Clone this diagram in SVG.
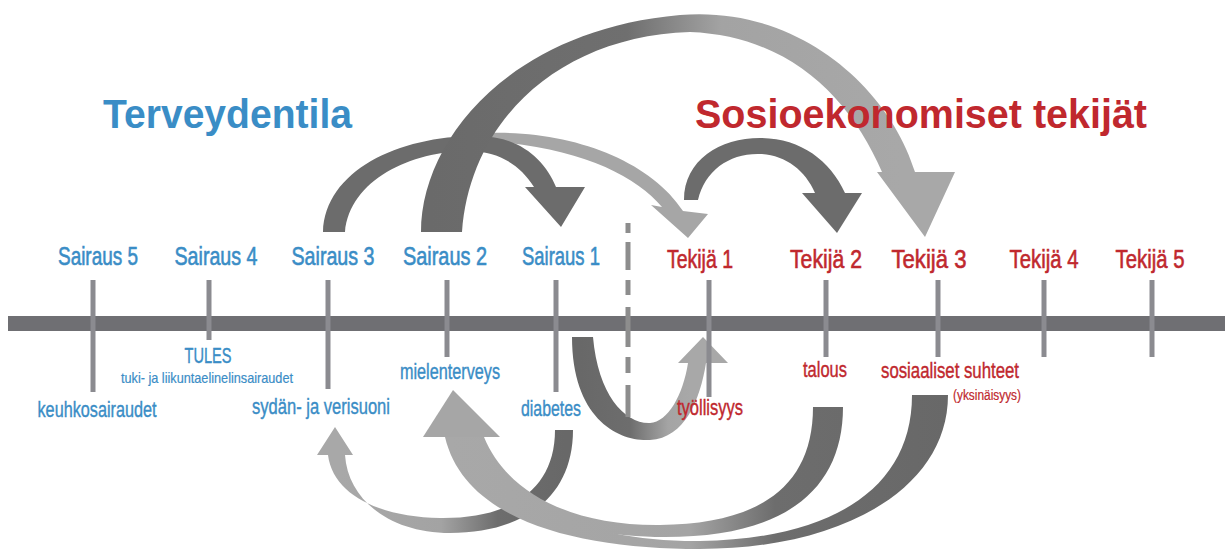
<svg xmlns="http://www.w3.org/2000/svg" width="1225" height="549" viewBox="0 0 1225 549">
<style>
.title{font-family:"Liberation Sans",Arial,sans-serif;font-weight:bold;font-size:41px}
.lbl{font-family:"Liberation Sans Narrow","Liberation Sans",Arial,sans-serif;font-size:26px;text-anchor:middle;stroke-width:0.6px}
.sub{font-family:"Liberation Sans Narrow","Liberation Sans",Arial,sans-serif;font-size:22px;text-anchor:middle;stroke-width:0.4px}
.blue{fill:#3a8dc6}
.red{fill:#c0282e}
.lbl.blue,.sub.blue{stroke:#3a8dc6}
.lbl.red,.sub.red{stroke:#c0282e}
.tick{stroke:#8b8b90;stroke-width:5;fill:none}
.dark{fill:#6c6c6c}
.light{fill:#a6a6a6}
</style>
<defs>
<linearGradient id="gB" gradientUnits="userSpaceOnUse" x1="430" y1="0" x2="900" y2="0">
<stop offset="0" stop-color="#6a6a6a"/><stop offset="0.42" stop-color="#6f6f6f"/><stop offset="0.62" stop-color="#a3a3a3"/><stop offset="1" stop-color="#a8a8a8"/>
</linearGradient>
<linearGradient id="gE" gradientUnits="userSpaceOnUse" x1="580" y1="0" x2="690" y2="0">
<stop offset="0" stop-color="#686868"/><stop offset="0.45" stop-color="#6d6d6d"/><stop offset="0.8" stop-color="#a4a4a4"/><stop offset="1" stop-color="#a8a8a8"/>
</linearGradient>
<linearGradient id="gF" gradientUnits="userSpaceOnUse" x1="565" y1="0" x2="340" y2="0">
<stop offset="0" stop-color="#686868"/><stop offset="0.3" stop-color="#6d6d6d"/><stop offset="0.55" stop-color="#a3a3a3"/><stop offset="1" stop-color="#a8a8a8"/>
</linearGradient>
<linearGradient id="gGH" gradientUnits="userSpaceOnUse" x1="950" y1="0" x2="450" y2="0">
<stop offset="0" stop-color="#686868"/><stop offset="0.35" stop-color="#6d6d6d"/><stop offset="0.52" stop-color="#a4a4a4"/><stop offset="1" stop-color="#a8a8a8"/>
</linearGradient>
</defs>
<rect width="1225" height="549" fill="#ffffff"/>

<g id="connectors">
  <!-- Tekijä 1 -> Tekijä 2 -->
  <path class="dark" d="M684,200 C684,160 720,138 760,138 C800,138 830,160 845,193 L862,193 L837,233 L802,193 L815,193 C805,170 785,155 760,154 C730,153 705,170 698,200 Z"/>
  <!-- Sairaus 2 -> Tekijä 1 (light) -->
  <path class="light" d="M488,133 C570,130 650,160 683,211 L708,214 L688,238 L651,205 L662,207 C635,175 580,148 490,141 Z"/>
  <!-- Sairaus 3 -> Sairaus 1 -->
  <path class="dark" d="M323,232 C325,170 400,135 480,136 C520,137 545,160 556,187 L585,187 L561,227 L525,187 L534,187 C520,165 500,152 470,151 C410,151 350,180 345,232 Z"/>
  <!-- Sairaus 2 -> Tekijä 3 (big arc) -->
  <path fill="url(#gB)" d="M421,232 C421,140 510,30 680,15 C800,5 890,90 915,172 L955,172 L925,237 L877,172 L882,172 C850,98 790,36 690,32 C560,36 470,120 462,232 Z"/>
  <!-- diabetes -> työllisyys -->
  <path fill="url(#gE)" d="M572,337 C572,420 620,442 650,440 C685,438 700,400 706,363 L728,363 L703,337 L678,363 L688,363 C683,395 668,422 650,423 C625,424 598,395 593,337 Z"/>
  <!-- diabetes -> sydän- ja verisuoni -->
  <path fill="url(#gF)" d="M573,430 C573,500 520,533 450,533 C390,533 348,500 345,455 L353,455 L335,427 L317,455 L328,455 C333,495 380,517 440,518 C510,519 555,490 555,430 Z"/>
  <!-- sosiaaliset suhteet -> mielenterveys -->
  <path fill="url(#gGH)" d="M912,395 C912,490 830,539 700,541 C600,542 505,512 476,437 L445,437 C465,522 580,549 700,549 C840,549 948,490 948,395 Z"/>
  <!-- talous -> mielenterveys -->
  <path fill="url(#gGH)" d="M813,407 C813,490 755,524 660,525 C575,526 508,495 484,437 L458,437 C480,508 570,537 665,537 C785,537 843,490 843,407 Z"/>
  <polygon class="light" points="453,390 500,437 423,437"/>
</g>

<text class="title blue" x="103" y="128" textLength="249" lengthAdjust="spacingAndGlyphs">Terveydentila</text>
<text class="title red" x="695" y="128" textLength="452" lengthAdjust="spacingAndGlyphs">Sosioekonomiset tekijät</text>

<rect x="8" y="316" width="1217" height="15" fill="#6f6f73"/>
<path d="M628,223 V233 M628,242 V270 M628,280 V295 M628,307 V347 M628,357 V373 M628,385 V417" stroke="#8d8d8d" stroke-width="5" fill="none"/>

<g id="sairaus5">
  <line class="tick" x1="93" y1="280" x2="93" y2="392"/>
  <text class="lbl blue" x="98" y="265" textLength="80" lengthAdjust="spacingAndGlyphs">Sairaus 5</text>
  <text class="sub blue" x="97" y="417" textLength="119" lengthAdjust="spacingAndGlyphs">keuhkosairaudet</text>
</g>
<g id="sairaus4">
  <line class="tick" x1="209" y1="280" x2="209" y2="340"/>
  <text class="lbl blue" x="216" y="265" textLength="83" lengthAdjust="spacingAndGlyphs">Sairaus 4</text>
  <text class="sub blue" x="208" y="363" textLength="47" lengthAdjust="spacingAndGlyphs">TULES</text>
  <text class="sub blue" x="207" y="383" style="font-size:15px;stroke-width:0.2px" textLength="172" lengthAdjust="spacingAndGlyphs">tuki- ja liikuntaelinelinsairaudet</text>
</g>
<g id="sairaus3">
  <line class="tick" x1="328" y1="280" x2="328" y2="389"/>
  <text class="lbl blue" x="333" y="265" textLength="83" lengthAdjust="spacingAndGlyphs">Sairaus 3</text>
  <text class="sub blue" x="321" y="414" textLength="138" lengthAdjust="spacingAndGlyphs">sydän- ja verisuoni</text>
</g>
<g id="sairaus2">
  <line class="tick" x1="447" y1="280" x2="447" y2="357"/>
  <text class="lbl blue" x="445" y="265" textLength="84" lengthAdjust="spacingAndGlyphs">Sairaus 2</text>
  <text class="sub blue" x="450" y="379" textLength="100" lengthAdjust="spacingAndGlyphs">mielenterveys</text>
</g>
<g id="sairaus1">
  <line class="tick" x1="556" y1="280" x2="556" y2="392"/>
  <text class="lbl blue" x="561" y="265" textLength="78" lengthAdjust="spacingAndGlyphs">Sairaus 1</text>
  <text class="sub blue" x="551" y="416" textLength="60" lengthAdjust="spacingAndGlyphs">diabetes</text>
</g>
<g id="tekija1">
  <line class="tick" x1="709" y1="280" x2="709" y2="397"/>
  <text class="lbl red" x="700" y="268" textLength="66" lengthAdjust="spacingAndGlyphs">Tekijä 1</text>
  <text class="sub red" x="710" y="415" textLength="66" lengthAdjust="spacingAndGlyphs">työllisyys</text>
</g>
<g id="tekija2">
  <line class="tick" x1="826" y1="280" x2="826" y2="357"/>
  <text class="lbl red" x="826" y="268" textLength="72" lengthAdjust="spacingAndGlyphs">Tekijä 2</text>
  <text class="sub red" x="825" y="377" textLength="44" lengthAdjust="spacingAndGlyphs">talous</text>
</g>
<g id="tekija3">
  <line class="tick" x1="938" y1="280" x2="938" y2="357"/>
  <text class="lbl red" x="929" y="268" textLength="75" lengthAdjust="spacingAndGlyphs">Tekijä 3</text>
  <text class="sub red" x="950" y="378" textLength="138" lengthAdjust="spacingAndGlyphs">sosiaaliset suhteet</text>
  <text class="sub red" x="987" y="400" style="font-size:14px;stroke-width:0.2px" textLength="68" lengthAdjust="spacingAndGlyphs">(yksinäisyys)</text>
</g>
<g id="tekija4">
  <line class="tick" x1="1044" y1="280" x2="1044" y2="357"/>
  <text class="lbl red" x="1044" y="268" textLength="69" lengthAdjust="spacingAndGlyphs">Tekijä 4</text>
</g>
<g id="tekija5">
  <line class="tick" x1="1152" y1="280" x2="1152" y2="357"/>
  <text class="lbl red" x="1150" y="268" textLength="69" lengthAdjust="spacingAndGlyphs">Tekijä 5</text>
</g>
</svg>
